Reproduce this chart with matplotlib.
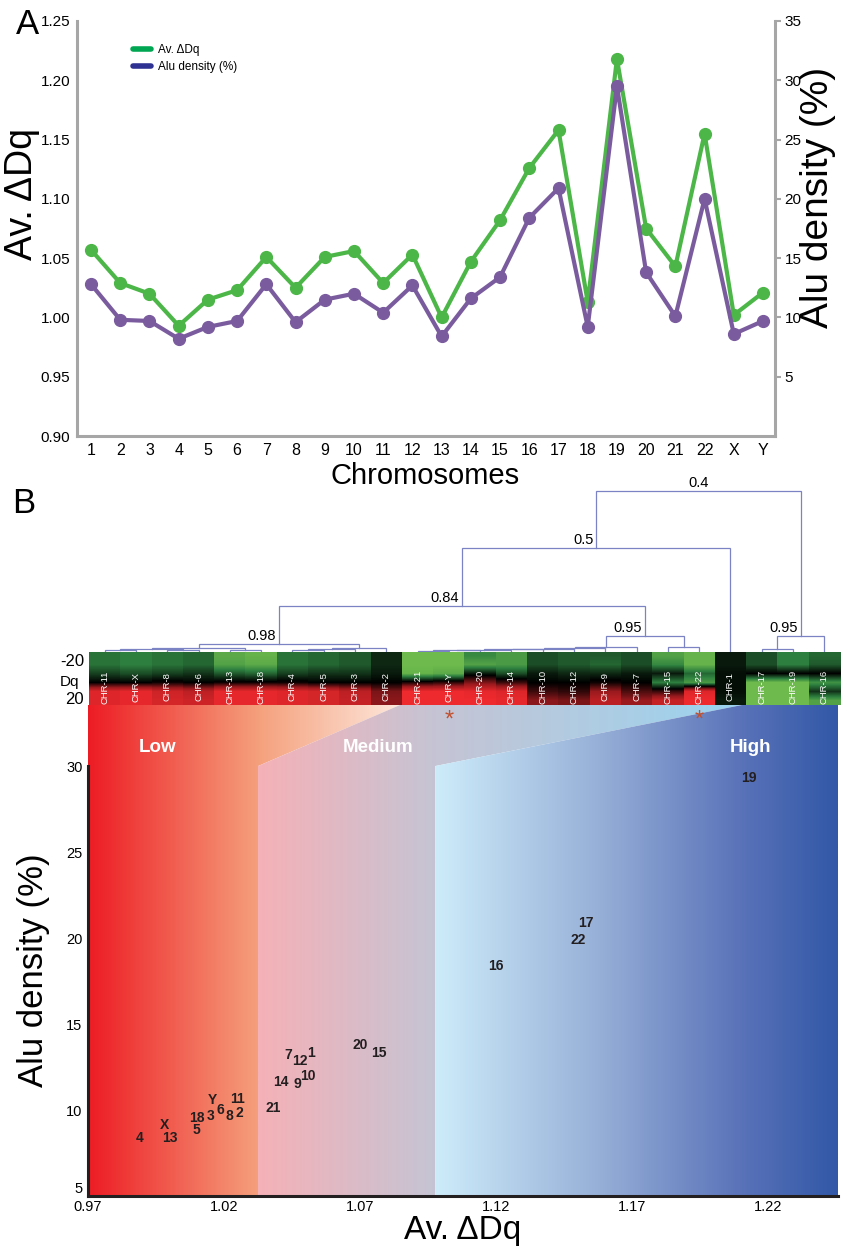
import numpy as np
import matplotlib
matplotlib.use("Agg")
import matplotlib.pyplot as plt
import matplotlib.colors as mcolors
from matplotlib.lines import Line2D
from matplotlib.patches import Polygon
from matplotlib.transforms import blended_transform_factory

plt.rcParams['font.family'] = ['Liberation Sans', 'DejaVu Sans']

# ---- panel A: per chromosome averages
chromosomes = [str(i) for i in range(1, 23)] + ["X", "Y"]
av_dq = [1.057, 1.029, 1.020, 0.993, 1.015, 1.023, 1.051, 1.025, 1.051, 1.056, 1.029, 1.053,
         1.000, 1.047, 1.082, 1.126, 1.158, 1.013, 1.218, 1.075, 1.043, 1.155, 1.002, 1.021]
alu_density = [12.8, 9.8, 9.7, 8.2, 9.2, 9.7, 12.8, 9.6, 11.5, 12.0, 10.4, 12.7,
               8.4, 11.6, 13.4, 18.4, 20.9, 9.2, 29.5, 13.8, 10.1, 20.0, 8.6, 9.7]

# ---- panel B: labels as placed in the scatter
scatter_dq = [1.052, 1.0255, 1.015, 0.989, 1.010, 1.0185, 1.0436, 1.022, 1.047, 1.051, 1.025, 1.048,
              1.000, 1.041, 1.077, 1.120, 1.153, 1.010, 1.213, 1.070, 1.038, 1.150, 0.998, 1.0156]
scatter_alu = [13.3, 9.8, 9.65, 8.4, 8.85, 10.0, 13.2, 9.65, 11.5, 12.0, 10.65, 12.85,
               8.4, 11.6, 13.3, 18.4, 20.9, 9.55, 29.3, 13.8, 10.1, 19.9, 9.1, 10.6]

# ---- dendrogram / heatmap (leaf order left to right)
leaf_order = ["11", "X", "8", "6", "13", "18", "4", "5", "3", "2", "21", "Y",
              "20", "14", "10", "12", "9", "7", "15", "22", "1", "17", "19", "16"]
dq_levels = [-20, -12, -4, 4, 12, 20]
heat_qm20 = [-0.45, -0.5, -0.45, -0.4, -0.75, -0.8, -0.45, -0.4, -0.35, -0.15, -0.85, -0.85,
             -0.55, -0.65, -0.3, -0.35, -0.35, -0.3, -0.7, -0.8, -0.1, -0.3, -0.5, -0.4]
heat_qm12 = [-0.45, -0.5, -0.45, -0.4, -0.7, -0.75, -0.45, -0.4, -0.35, -0.15, -0.85, -0.85,
             -0.7, -0.65, -0.3, -0.35, -0.4, -0.3, -0.55, -0.8, -0.1, -0.3, -0.5, -0.35]
heat_qm4 = [-0.25, -0.3, -0.25, -0.2, -0.35, -0.4, -0.25, -0.2, -0.2, -0.1, -0.8, -0.75,
            -0.1, -0.3, -0.1, -0.15, -0.15, -0.1, -0.1, -0.4, -0.05, 0.0, 0.0, 0.0]
heat_q4 = [0.0, 0.0, 0.05, 0.0, 0.05, 0.05, 0.05, 0.0, 0.0, 0.0, 0.1, 0.15,
           0.4, 0.2, 0.0, 0.0, 0.05, 0.0, -0.5, -0.65, -0.05, -0.85, -0.85, -0.6]
heat_q12 = [0.9, 0.95, 0.8, 0.7, 0.95, 0.95, 0.9, 0.85, 0.7, 0.4, 1.0, 1.0,
            0.95, 0.9, 0.2, 0.15, 0.5, 0.25, 0.2, 0.9, -0.05, -0.85, -0.85, -0.2]
heat_q20 = [0.9, 0.95, 0.85, 0.8, 0.95, 0.95, 0.9, 0.85, 0.75, 0.45, 1.0, 1.0,
            1.0, 0.95, 0.45, 0.4, 0.7, 0.5, 0.75, 1.0, -0.1, -0.85, -0.85, -0.7]

# merges: node ids 0..23 are leaves, new nodes numbered from 24
merge_left = [0, 2, 24, 4, 26, 6, 29, 30, 28, 10, 33, 34, 35, 36, 37, 38, 18, 39, 32, 42, 21, 44, 43]
merge_right = [1, 3, 25, 5, 27, 7, 8, 9, 31, 11, 12, 13, 14, 15, 16, 17, 19, 40, 41, 20, 22, 23, 45]
merge_height = [2, 2, 3, 2.5, 4, 2, 3, 4, 8, 1.5, 2, 2.5, 3, 3.5, 4, 5, 5, 16, 46, 104, 3, 16, 161]
merge_label = {32: "0.98", 41: "0.95", 42: "0.84", 43: "0.5", 45: "0.95", 46: "0.4"}
starred = ["Y", "22"]

# ---- colours
green_line = "#4cb748"
purple_line = "#7a5c9e"
grey_axis = "#a6a6a6"
dendro_color = "#7b83c4"

fig = plt.figure(figsize=(8.42, 12.46), dpi=100)

# ================= panel A =================
axA = fig.add_axes([77 / 842, 1 - 436 / 1246, 698 / 842, 415 / 1246])
axA2 = axA.twinx()
x = np.arange(len(chromosomes))
axA.plot(x, av_dq, color=green_line, lw=3, marker="o", ms=8.5)
axA2.plot(x, alu_density, color=purple_line, lw=3, marker="o", ms=8.5)

axA.set_xlim(-0.48, 23.41)
axA.set_ylim(0.90, 1.25)
axA2.set_ylim(0, 35)
axA.set_xticks(x)
axA.set_xticklabels(chromosomes)
axA.set_yticks(np.arange(0.90, 1.2501, 0.05))
axA.set_yticklabels([f"{v:.2f}" for v in np.arange(0.90, 1.2501, 0.05)])
axA2.set_yticks(range(5, 36, 5))
for a in (axA, axA2):
    for s in a.spines.values():
        s.set_color(grey_axis)
        s.set_linewidth(2.2)
    a.spines["top"].set_visible(False)
axA.spines["right"].set_visible(False)
axA2.spines["left"].set_visible(False)
axA2.spines["bottom"].set_visible(False)
axA.tick_params(axis="x", length=0, labelsize=11.5, pad=5)
axA.tick_params(axis="y", length=0, labelsize=11, pad=5)
axA2.tick_params(axis="y", length=4, width=1.5, color=grey_axis, direction="out",
                 labelsize=11, pad=3)

handles = [Line2D([], [], color="#00a651", lw=4, solid_capstyle="round"),
           Line2D([], [], color="#2e3192", lw=4, solid_capstyle="round")]
axA.legend(handles, ["Av. \u0394Dq", "Alu density (%)"], loc="upper left",
           bbox_to_anchor=(0.08, 0.945), borderaxespad=0, borderpad=0, frameon=False,
           handlelength=1.5, handletextpad=0.6, labelspacing=0.45, fontsize=8.5)

fig.text(22 / 842, 1 - 194 / 1246, "Av. \u0394Dq", rotation=90, ha="center", va="center", fontsize=27)
fig.text(818 / 842, 1 - 197 / 1246, "Alu density (%)", rotation=90, ha="center", va="center", fontsize=28)
fig.text(425 / 842, 1 - 476 / 1246, "Chromosomes", ha="center", va="center", fontsize=21)
fig.text(28 / 842, 1 - 24 / 1246, "A", ha="center", va="center", fontsize=25)
fig.text(24 / 842, 1 - 503 / 1246, "B", ha="center", va="center", fontsize=25)

# ================= panel B scatter with zones =================
x_lo, x_hi = 0.97, 1.2457
y_lo, y_hi = 5, 33.55
axS = fig.add_axes([88 / 842, 1 - 1196 / 1246, 750 / 842, 491 / 1246])

low_edge, low_top = 1.0325, 1.0847
mid_edge, mid_top = 1.0976, 1.2104
step_y = 30

zones = [
    ([(x_lo, y_lo), (low_edge, y_lo), (low_edge, step_y), (low_top, y_hi), (x_lo, y_hi)],
     x_lo, low_top, ["#ed1c24", "#f5a07d", "#fde8dc"], [0, 0.545, 1]),
    ([(low_edge, y_lo), (mid_edge, y_lo), (mid_edge, step_y), (mid_top, y_hi), (low_top, y_hi),
      (low_edge, step_y)],
     low_edge, mid_top, ["#f5b1b7", "#c5c4d4", "#9ad4f0"], [0, 0.367, 1]),
    ([(mid_edge, y_lo), (x_hi, y_lo), (x_hi, y_hi), (mid_top, y_hi), (mid_edge, step_y)],
     mid_edge, x_hi, ["#cdecfa", "#96afd7", "#5a73b9", "#3258a7"], [0, 0.41, 0.757, 1]),
]
grad = np.linspace(0, 1, 512)[None, :]
for verts, x0, x1, cols, stops in zones:
    cmap = mcolors.LinearSegmentedColormap.from_list("zone", list(zip(stops, cols)))
    im = axS.imshow(grad, cmap=cmap, extent=(x0, x1, y_lo, y_hi), aspect="auto",
                    interpolation="bilinear", zorder=0)
    im.set_clip_path(Polygon(verts, closed=True, transform=axS.transData))

for lab, zx in zip(["Low", "Medium", "High"], [0.9954, 1.0766, 1.2134]):
    axS.text(zx, 31.05, lab, color="white", fontsize=13.5, fontweight="bold", ha="center", va="center")

for lab, dx, ay in zip(chromosomes, scatter_dq, scatter_alu):
    axS.text(dx, ay, lab, color="#231f20", fontsize=10, fontweight="bold", ha="center", va="center")

axS.set_xlim(x_lo, x_hi)
axS.set_ylim(y_lo, y_hi)
axS.set_xticks([0.97, 1.02, 1.07, 1.12, 1.17, 1.22])
axS.set_xticklabels(["0.97", "1.02", "1.07", "1.12", "1.17", "1.22"])
axS.set_yticks(range(5, 31, 5))
for s in ("top", "right"):
    axS.spines[s].set_visible(False)
for s in ("left", "bottom"):
    axS.spines[s].set_color("#231f20")
    axS.spines[s].set_linewidth(2.2)
axS.spines["left"].set_bounds(5, 30)
axS.tick_params(axis="x", length=0, labelsize=10.5, pad=3)
axS.tick_params(axis="y", length=0, labelsize=10.5, pad=4)
axS.get_yticklabels()[0].set_verticalalignment("bottom")

fig.text(463 / 842, 1 - 1230 / 1246, "Av. \u0394Dq", ha="center", va="center", fontsize=24)
fig.text(34 / 842, 1 - 970 / 1246, "Alu density (%)", rotation=90, ha="center", va="center", fontsize=25)

# ================= dendrogram =================
n = len(leaf_order)
axD = fig.add_axes([89 / 842, 1 - 652 / 1246, 751 / 842, 176 / 1246])
pos = {i: float(i) for i in range(n)}
hgt = {i: 0.0 for i in range(n)}
for k, (a, b, h) in enumerate(zip(merge_left, merge_right, merge_height)):
    node = n + k
    axD.plot([pos[a], pos[a], pos[b], pos[b]], [hgt[a], h, h, hgt[b]],
             color=dendro_color, lw=0.9, solid_joinstyle="miter")
    pos[node] = (pos[a] + pos[b]) / 2
    hgt[node] = h
root = n + len(merge_left) - 1
for node, lab in merge_label.items():
    if node == root:
        axD.annotate(lab, (pos[node], hgt[node]), xytext=(0, 1), textcoords="offset points",
                     ha="center", va="bottom", fontsize=10.5)
    else:
        axD.annotate(lab, (pos[node], hgt[node]), xytext=(-2, 0.5), textcoords="offset points",
                     ha="right", va="bottom", fontsize=10.5)
axD.set_xlim(-0.5, n - 0.5)
axD.set_ylim(0, 176)
axD.axis("off")

# ================= heatmap =================
axH = fig.add_axes([89 / 842, 1 - 705 / 1246, 751 / 842, 53 / 1246])
heat = np.array([heat_qm20, heat_qm12, heat_qm4, heat_q4, heat_q12, heat_q20])
dq_cmap = mcolors.LinearSegmentedColormap.from_list(
    "dq", [(0, "#8ad452"), (0.25, "#2e8040"), (0.5, "#000000"), (0.75, "#9a1a1e"), (1, "#ee2a2e")])
for i in range(n):
    axH.imshow(heat[:, i:i + 1], cmap=dq_cmap, vmin=-1, vmax=1, aspect="auto",
               interpolation="bilinear", extent=(i - 0.5, i + 0.5, 0, 1))
    axH.text(i, 0.34, "CHR-" + leaf_order[i], rotation=90, color="white", fontsize=6.8,
             ha="center", va="center")
axH.set_xlim(-0.5, n - 0.5)
axH.set_ylim(0, 1)
axH.axis("off")

blend = blended_transform_factory(axH.transData, axH.transAxes)
for lab in starred:
    axH.text(leaf_order.index(lab), -0.3, "*", transform=blend, color="#c1502e", fontsize=17,
             ha="center", va="center", clip_on=False)

fig.text(84 / 842, 1 - 661 / 1246, "-20", ha="right", va="center", fontsize=12)
fig.text(79 / 842, 1 - 682 / 1246, "Dq", ha="right", va="center", fontsize=11)
fig.text(84 / 842, 1 - 699 / 1246, "20", ha="right", va="center", fontsize=12)

fig.savefig("out.png", dpi=100)
